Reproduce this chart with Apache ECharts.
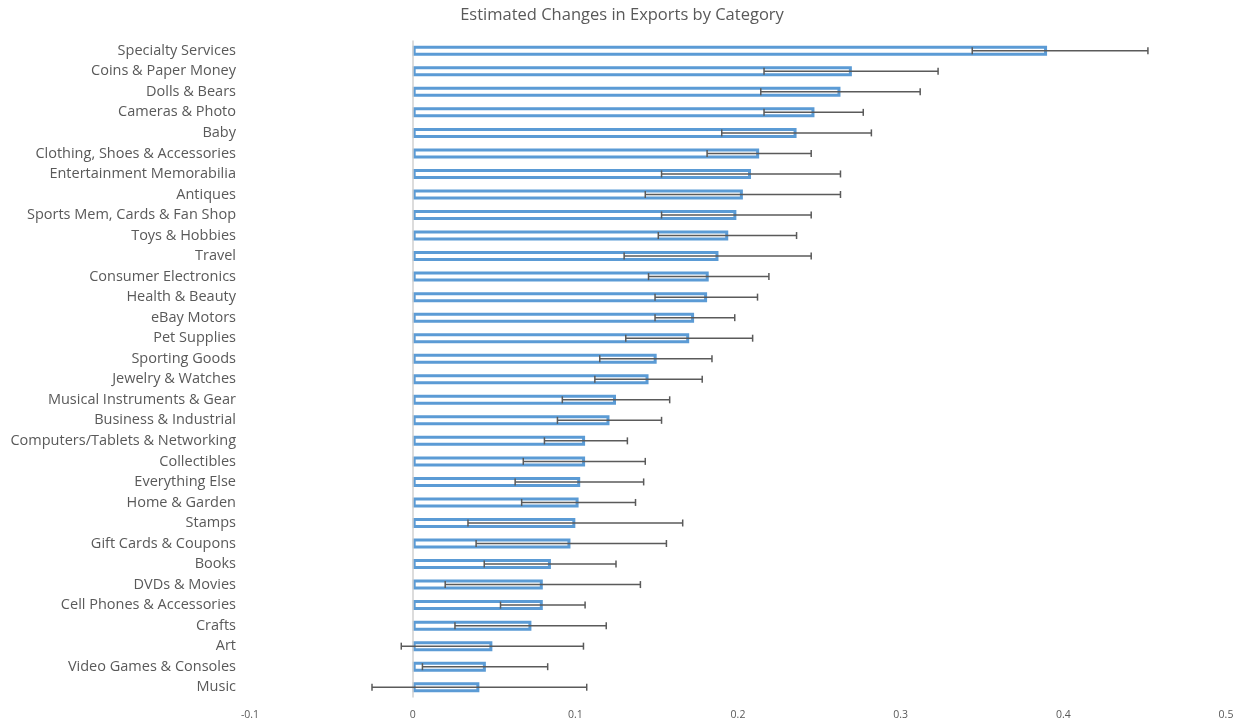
<!DOCTYPE html>
<html>
<head>
<meta charset="utf-8">
<script src="https://cdn.jsdelivr.net/npm/echarts@6/dist/echarts.min.js"></script>
<style>html,body{margin:0;padding:0;background:#fff}#c{width:1244px;height:723px}</style>
</head>
<body>
<div id="c"></div>
<script>
const categories = ["Specialty Services","Coins & Paper Money","Dolls & Bears","Cameras & Photo","Baby","Clothing, Shoes & Accessories","Entertainment Memorabilia","Antiques","Sports Mem, Cards & Fan Shop","Toys & Hobbies","Travel","Consumer Electronics","Health & Beauty","eBay Motors","Pet Supplies","Sporting Goods","Jewelry & Watches","Musical Instruments & Gear","Business & Industrial","Computers/Tablets & Networking","Collectibles","Everything Else","Home & Garden","Stamps","Gift Cards & Coupons","Books","DVDs & Movies","Cell Phones & Accessories","Crafts","Art","Video Games & Consoles","Music"];
const estimates = [0.390,0.270,0.263,0.247,0.236,0.213,0.208,0.203,0.199,0.194,0.188,0.182,0.181,0.173,0.170,0.150,0.145,0.125,0.121,0.106,0.106,0.103,0.102,0.100,0.097,0.085,0.080,0.080,0.073,0.049,0.045,0.041];
const lowerBounds = [0.344,0.216,0.214,0.216,0.190,0.181,0.153,0.143,0.153,0.151,0.130,0.145,0.149,0.149,0.131,0.115,0.112,0.092,0.089,0.081,0.068,0.063,0.067,0.034,0.039,0.044,0.020,0.054,0.026,-0.007,0.006,-0.025];
const upperBounds = [0.452,0.323,0.312,0.277,0.282,0.245,0.263,0.263,0.245,0.236,0.245,0.219,0.212,0.198,0.209,0.184,0.178,0.158,0.153,0.132,0.143,0.142,0.137,0.166,0.156,0.125,0.140,0.106,0.119,0.105,0.083,0.107];
const xTicks = [-0.1,0,0.1,0.2,0.3,0.4,0.5];

const errData = categories.map((c,i)=>[i, lowerBounds[i], upperBounds[i]]);
const chart = echarts.init(document.getElementById('c'));
const txt = '#595959';
chart.setOption({
  animation:false,
  title:{text:'Estimated Changes in Exports by Category',left:'center',top:2,
    textStyle:{fontFamily:'Open Sans',fontSize:16.5,fontWeight:'normal',color:txt}},
  grid:{left:250,right:18,top:40.5,bottom:25.5,containLabel:false},
  xAxis:{type:'value',min:-0.1,max:0.5,interval:0.1,
    axisLine:{show:false},axisTick:{show:false},splitLine:{show:false},
    axisLabel:{color:txt,fontFamily:'Open Sans',fontSize:10.5,margin:12,
      formatter:v=>{const t=xTicks.find(x=>Math.abs(x-v)<1e-9);return t===undefined?'':String(t);}}},
  yAxis:{type:'category',data:categories,inverse:true,
    axisLine:{show:false,onZero:false},axisTick:{show:false},
    axisLabel:{color:txt,fontFamily:'Open Sans',fontSize:14.5,margin:14}},
  series:[
    {type:'bar',data:estimates,barWidth:10,
      itemStyle:{color:'#ffffff',borderColor:'#5B9BD5',borderWidth:3},
      markLine:{silent:true,symbol:'none',label:{show:false},
        lineStyle:{color:'#d0d0d0',width:1.5,type:'solid'},
        data:[{xAxis:0}]}},
    {type:'custom',data:errData,z:5,
      encode:{x:[1,2],y:0},
      renderItem:function(params,api){
        const cat=api.value(0);
        const lo=api.coord([api.value(1),cat]);
        const hi=api.coord([api.value(2),cat]);
        const h=3.5;
        const st={stroke:'#5a5a5a',lineWidth:1.5};
        return {type:'group',children:[
          {type:'line',shape:{x1:lo[0],y1:lo[1],x2:hi[0],y2:hi[1]},style:st},
          {type:'line',shape:{x1:lo[0],y1:lo[1]-h,x2:lo[0],y2:lo[1]+h},style:st},
          {type:'line',shape:{x1:hi[0],y1:hi[1]-h,x2:hi[0],y2:hi[1]+h},style:st}
        ]};
      }}
  ]
});
</script>
</body>
</html>
